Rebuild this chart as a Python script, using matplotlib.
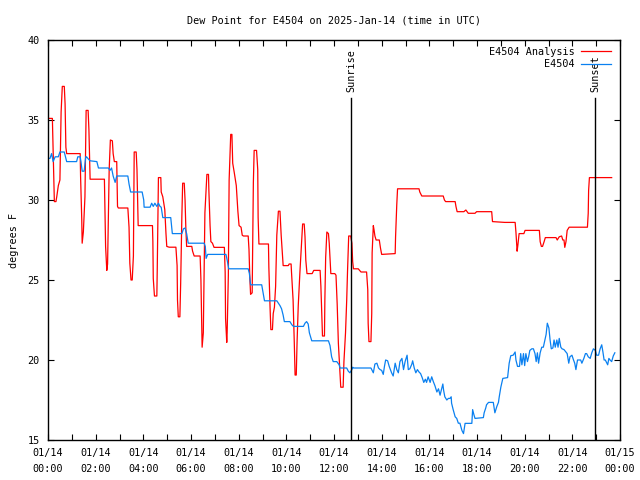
from datetime import datetime, timedelta

import matplotlib
matplotlib.use('Agg')
import matplotlib.dates as mdates
import matplotlib.pyplot as plt
from matplotlib.ticker import MultipleLocator

# minutes after 2025-01-14 00:00 UTC
analysis_min = [0, 11, 16, 20, 22, 26, 30, 33, 36, 41, 43, 45, 47, 81, 82, 85, 86, 89, 93, 96, 101, 103, 106,
                142, 143, 145, 148, 150, 154, 157, 162, 164, 167, 173, 175, 177, 201, 204, 206, 209, 212, 215,
                217, 222, 224, 227, 263, 264, 265, 268, 274, 275, 278, 284, 285, 289, 294, 297, 299, 305, 322,
                325, 326, 328, 332, 334, 337, 339, 343, 345, 347, 349, 362, 364, 368, 383, 385, 387, 388, 391,
                395, 400, 404, 405, 408, 410, 414, 418, 444, 446, 447, 450, 451, 454, 456, 460, 463, 465, 469,
                474, 478, 481, 486, 489, 492, 504, 506, 508, 510, 514, 517, 519, 525, 528, 529, 531, 555, 556,
                559, 561, 565, 567, 570, 573, 576, 580, 584, 587, 590, 592, 605, 607, 612, 613, 617, 620, 622,
                625, 627, 630, 634, 639, 641, 645, 647, 649, 652, 665, 669, 685, 687, 689, 691, 696, 697, 699,
                702, 706, 708, 712, 722, 725, 728, 731, 733, 737, 743, 745, 749, 752, 754, 757, 762, 765, 767,
                769, 781, 788, 802, 805, 806, 808, 813, 815, 816, 819, 821, 823, 826, 834, 837, 840, 874, 875,
                878, 880, 934, 936, 941, 995, 998, 1001, 1025, 1027, 1030, 1047, 1052, 1058, 1075, 1079, 1117,
                1119, 1148, 1150, 1176, 1178, 1181, 1183, 1186, 1198, 1201, 1237, 1239, 1242, 1245, 1249, 1252,
                1279, 1282, 1287, 1293, 1296, 1299, 1301, 1304, 1307, 1312, 1358, 1360, 1361, 1363, 1419]
analysis_val = [35.1, 35.1, 29.9, 29.9, 30.2, 30.9, 31.25, 35.5, 37.1, 37.1, 36.0, 33.3, 32.9, 32.9, 31.5, 28.75,
                27.3, 28.0, 30.2, 35.6, 35.6, 34.4, 31.3, 31.3, 29.9, 27.1, 25.6, 26.0, 31.9, 33.75, 33.7, 32.9,
                32.4, 32.4, 29.6, 29.5, 29.5, 28.3, 26.05, 25.0, 25.0, 26.5, 33.0, 33.0, 31.9, 28.4, 28.4, 27.4,
                25.1, 24.0, 24.0, 25.6, 31.4, 31.4, 30.5, 30.2, 29.4, 27.9, 27.1, 27.05, 27.05, 25.9, 23.75,
                22.7, 22.7, 24.8, 29.0, 31.05, 31.05, 30.0, 28.25, 27.1, 27.1, 26.8, 26.5, 26.5, 25.0, 22.3,
                20.8, 21.7, 29.2, 31.6, 31.6, 30.6, 28.4, 27.4, 27.3, 27.04, 27.04, 25.5, 22.6, 21.1, 21.7,
                25.3, 31.25, 34.1, 34.1, 32.3, 31.7, 30.9, 29.3, 28.4, 28.3, 27.8, 27.75, 27.75, 26.9, 25.2,
                24.1, 24.2, 31.1, 33.1, 33.1, 31.9, 28.9, 27.25, 27.25, 25.8, 23.3, 21.9, 21.9, 22.9, 23.3,
                24.6, 27.8, 29.3, 29.3, 27.8, 26.7, 25.9, 25.9, 26.0, 26.0, 25.5, 23.75, 21.1, 19.06, 19.06,
                21.1, 23.4, 25.4, 27.6, 28.5, 28.5, 27.7, 26.25, 25.4, 25.4, 25.6, 25.6, 24.6, 23.1, 21.5,
                21.5, 23.75, 26.4, 28.0, 27.9, 27.3, 25.4, 25.4, 25.3, 23.5, 21.05, 20.1, 18.3, 18.3, 19.9,
                21.7, 23.75, 25.5, 27.75, 27.75, 27.3, 26.15, 25.7, 25.7, 25.5, 25.5, 24.4, 22.3, 21.15, 21.15,
                22.9, 26.7, 28.4, 28.1, 27.75, 27.5, 27.5, 27.0, 26.6, 26.65, 27.7, 29.7, 30.7, 30.7, 30.5,
                30.25, 30.25, 30.0, 29.9, 29.9, 29.6, 29.27, 29.27, 29.375, 29.17, 29.17, 29.27, 29.27, 28.65,
                28.6, 28.6, 28.6, 28.0, 26.8, 27.2, 27.9, 27.9, 28.1, 28.1, 27.4, 27.1, 27.1, 27.4, 27.65,
                27.65, 27.5, 27.7, 27.75, 27.5, 27.5, 27.04, 27.4, 28.1, 28.3, 28.3, 29.17, 30.6, 31.4, 31.4]

obs_min = [0, 1, 5, 9, 13, 18, 26, 30, 41, 45, 47, 72, 75, 81, 83, 86, 91, 95, 97, 102, 106, 123, 127, 152,
           156, 160, 164, 169, 173, 201, 204, 208, 237, 241, 242, 257, 261, 265, 269, 274, 278, 282, 285, 289,
           309, 313, 337, 341, 345, 349, 353, 393, 396, 398, 402, 448, 451, 455, 504, 507, 510, 538, 542, 545,
           576, 580, 584, 588, 592, 595, 609, 614, 618, 643, 647, 651, 655, 658, 664, 706, 710, 714, 718, 727,
           733, 735, 752, 756, 760, 765, 767, 769, 813, 819, 823, 828, 832, 836, 840, 844, 847, 850, 855, 859,
           862, 865, 869, 874, 878, 882, 886, 891, 895, 899, 904, 907, 911, 916, 918, 922, 926, 930, 934, 938,
           942, 946, 950, 953, 957, 962, 966, 970, 974, 979, 983, 987, 991, 994, 996, 999, 1004, 1008, 1012,
           1015, 1016, 1020, 1025, 1029, 1033, 1037, 1042, 1046, 1050, 1067, 1069, 1072, 1075, 1096, 1098,
           1102, 1104, 1109, 1121, 1125, 1130, 1134, 1136, 1140, 1145, 1157, 1161, 1165, 1171, 1176, 1178,
           1182, 1187, 1190, 1193, 1197, 1200, 1203, 1207, 1210, 1213, 1218, 1222, 1226, 1229, 1232, 1235,
           1239, 1243, 1247, 1251, 1254, 1257, 1261, 1264, 1267, 1271, 1274, 1277, 1281, 1284, 1287, 1291,
           1294, 1299, 1304, 1307, 1311, 1314, 1319, 1323, 1326, 1329, 1333, 1336, 1341, 1344, 1349, 1353,
           1356, 1360, 1365, 1369, 1373, 1378, 1381, 1386, 1390, 1394, 1397, 1400, 1403, 1407, 1409, 1412,
           1415, 1419, 1423, 1427]
obs_val = [33.2, 32.6, 32.6, 32.9, 32.4, 32.7, 32.7, 33.0, 33.0, 32.6, 32.4, 32.4, 32.7, 32.7, 32.4, 31.8,
           31.8, 32.7, 32.7, 32.55, 32.45, 32.4, 32.0, 32.0, 31.85, 32.0, 31.5, 31.1, 31.5, 31.5, 31.0, 30.5,
           30.5, 30.0, 29.55, 29.55, 29.8, 29.6, 29.8, 29.6, 29.8, 29.6, 29.55, 28.9, 28.9, 27.9, 27.9, 28.2,
           28.25, 27.9, 27.3, 27.3, 27.1, 26.35, 26.6, 26.6, 26.25, 25.7, 25.7, 25.4, 24.7, 24.7, 24.15, 23.7,
           23.7, 23.55, 23.4, 23.2, 22.8, 22.4, 22.4, 22.2, 22.1, 22.1, 22.3, 22.4, 22.25, 21.7, 21.2, 21.2,
           20.9, 20.2, 19.9, 19.9, 19.7, 19.5, 19.5, 19.3, 19.2, 19.4, 19.55, 19.5, 19.5, 19.2, 19.75, 19.8,
           19.5, 19.4, 19.35, 19.1, 19.6, 20.0, 19.95, 19.6, 19.4, 19.2, 19.0, 19.8, 19.4, 19.2, 19.9, 20.1,
           19.4, 19.9, 20.3, 19.4, 19.45, 19.75, 19.95, 19.5, 19.2, 19.4, 19.25, 19.15, 18.9, 18.6, 18.8,
           18.6, 18.95, 18.6, 18.95, 18.65, 18.4, 18.0, 18.2, 17.8, 18.2, 18.5, 18.1, 17.7, 17.5, 17.6, 17.6,
           17.7, 17.3, 16.9, 16.45, 16.35, 16.05, 16.05, 15.6, 15.4, 16.04, 16.04, 16.9, 16.6, 16.35, 16.4,
           16.7, 17.0, 17.2, 17.35, 17.35, 16.7, 17.1, 17.35, 17.7, 18.3, 18.85, 18.9, 19.8, 20.27, 20.3,
           20.5, 20.0, 19.6, 19.6, 20.4, 19.7, 20.4, 19.65, 20.4, 19.9, 20.2, 20.6, 20.7, 20.7, 20.4, 19.9,
           20.45, 19.8, 20.45, 20.8, 20.8, 21.25, 21.6, 22.3, 22.0, 21.25, 20.7, 20.75, 21.25, 20.8, 21.25,
           20.8, 21.35, 20.8, 20.7, 20.65, 20.5, 20.4, 19.8, 20.2, 20.3, 20.0, 19.8, 19.4, 20.0, 20.0, 20.0,
           19.8, 20.1, 20.4, 20.4, 20.2, 20.1, 20.45, 20.7, 20.6, 20.3, 20.3, 20.7, 20.95, 20.5, 20.0, 20.0,
           19.8, 19.7, 20.1, 20.0, 19.9, 20.25, 20.45]

sun_events = ['Sunrise', 'Sunset']
sun_min = [763, 1377]

DAY = datetime(2025, 1, 14)
FONT = 'DejaVu Sans Mono'
FS = 7.3


def to_times(minutes):
    return [DAY + timedelta(minutes=m) for m in minutes]


fig = plt.figure(figsize=(6.4, 4.8), dpi=100)
ax = fig.add_axes([48 / 640, 40 / 480, 572 / 640, 400 / 480])

ax.plot(to_times(analysis_min), analysis_val, color='#ff0000', lw=0.9, label='E4504 Analysis')
ax.plot(to_times(obs_min), obs_val, color='#0a80f0', lw=0.9, label='E4504')

for name, m in zip(sun_events, sun_min):
    t = DAY + timedelta(minutes=m)
    ax.plot([t, t], [15, 36.4], color='black', lw=1.0)
    ax.text(t, 36.75, name, rotation=90, ha='center', va='bottom', fontsize=FS, family=FONT)

ax.set_xlim(DAY, DAY + timedelta(days=1))
ax.set_ylim(15, 40)
ax.xaxis.set_major_locator(mdates.HourLocator(byhour=range(0, 24, 2)))
ax.xaxis.set_minor_locator(mdates.HourLocator())
ax.xaxis.set_major_formatter(mdates.DateFormatter('%m/%d\n%H:%M'))
ax.yaxis.set_major_locator(MultipleLocator(5))
ax.tick_params(which='both', direction='in', length=4.5, width=0.8, top=True, right=True,
               labelsize=FS)
ax.tick_params(axis='x', pad=6)
ax.tick_params(axis='y', pad=6)
for lab in ax.get_xticklabels():
    lab.set_family(FONT)
    lab.set_linespacing(1.65)
for lab in ax.get_yticklabels():
    lab.set_family(FONT)
for s in ax.spines.values():
    s.set_linewidth(1.0)

ax.set_ylabel('degrees F', fontsize=FS, family=FONT, labelpad=6)
ax.set_title('Dew Point for E4504 on 2025-Jan-14 (time in UTC)', fontsize=FS, family=FONT, pad=12)

leg = ax.legend(loc='upper right', frameon=False, markerfirst=False, handlelength=3.0,
                prop={'family': FONT, 'size': FS}, borderaxespad=0.25, labelspacing=0.25,
                handletextpad=0.6, bbox_to_anchor=(0.996, 1.0))
for t in leg.get_texts():
    t.set_ha('right')

fig.savefig('out.png', dpi=100)
